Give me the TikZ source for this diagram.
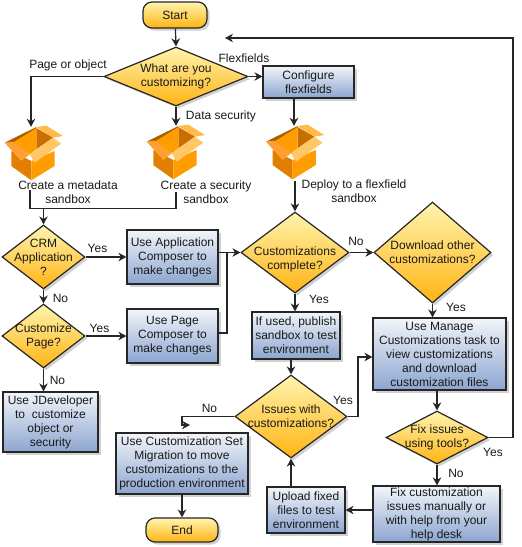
\documentclass[tikz,border=0pt]{standalone}
\usepackage{fontspec}
\setmainfont{Liberation Sans}
\usetikzlibrary{arrows.meta,shapes.geometric,shadows}
\definecolor{ink}{HTML}{262626}
\definecolor{procT}{HTML}{F2F5FA}
\definecolor{procB}{HTML}{8CA5CF}
\definecolor{decT}{HTML}{FFF4AE}
\definecolor{decB}{HTML}{FFB414}
\definecolor{bxA}{HTML}{FF9C00}
\definecolor{bxB}{HTML}{E27F00}
\definecolor{bxC}{HTML}{C96E00}
\definecolor{bxD}{HTML}{FFC766}
\definecolor{bxE}{HTML}{FFA033}
\tikzset{
  x=1pt,y=-1pt,
  lab/.style={font=\fontsize{12}{14}\selectfont,align=center,inner sep=0pt,text=black!90},
  shade box/.style={draw=ink,line width=1.2pt,drop shadow={shadow xshift=2.5pt,shadow yshift=-2.5pt,fill=black!30,opacity=.6}},
  proc/.style={rectangle,shade box,top color=procT,bottom color=procB,lab,text=black!90},
  dec/.style={diamond,shade box,top color=decT,bottom color=decB,inner sep=0pt,aspect=1},
  term/.style={rectangle,rounded corners=9pt,shade box,top color=decT,bottom color=decB,lab},
  iconbox/.style={inner sep=0pt,minimum width=60pt,minimum height=54pt},
  conn/.style={draw=ink,line width=1.2pt},
  arr/.style={conn,-{Stealth[length=8pt,width=8.5pt]}},
  pics/sandbox/.style={code={
    \fill[bxB!75!black] (2.8,-27) -- (-28.8,-11.3) -- (-20.5,-11.3) -- (2.8,-25) -- cycle;
    \fill[bxD!70!bxA] (2.8,-27) -- (12.8,-28.3) -- (29.5,-18) -- (19.5,-16.3) -- cycle;
    \fill[bxC] (2.8,-26) -- (19.5,-16.3) -- (2.8,-4.7) -- cycle;
    \fill[bxA] (2.8,-26) -- (2.8,-4.7) -- (-3.8,0.3) -- (-20.5,-11.3) -- cycle;
    \fill[bxB] (-22.2,-3) -- (-2.2,7) -- (-2.2,26.3) -- (-22.2,12) -- cycle;
    \fill[bxA] (-2.2,7) -- (21,-3) -- (21,12) -- (-2.2,26.3) -- cycle;
    \fill[bxE] (-28.8,-11.3) -- (-20.5,-12.3) -- (-3.8,0.3) -- (-12.2,7) -- cycle;
    \fill[bxD] (-3.8,0.3) -- (19.5,-16.3) -- (27.8,-10.3) -- (1.2,8.7) -- cycle;
  }}
}
\begin{document}
\begin{tikzpicture}
\useasboundingbox (0,0) rectangle (522,547);
% terminals
\node[term,minimum width=64pt,minimum height=26pt] (start) at (175,15) {Start};
\node[term,minimum width=72pt,minimum height=24pt] (endn) at (182,530) {End};
% decisions
\node[dec,minimum width=144pt,minimum height=59pt,label={[lab]center:What are you\\customizing?}] (q1) at (176,76.5) {};
\node[dec,minimum width=83pt,minimum height=64pt,label={[lab]center:CRM\\Application\\?}] (crm) at (43.5,257) {};
\node[dec,minimum width=83pt,minimum height=64pt,label={[lab]center:Customize\\Page?}] (page) at (43.5,336) {};
\node[dec,minimum width=108pt,minimum height=81pt,label={[lab,yshift=-7pt]center:Customizations\\complete?}] (done) at (295,252.5) {};
\node[dec,minimum width=117pt,minimum height=101pt,label={[lab]center:Download other\\customizations?}] (dl) at (432.5,252.5) {};
\node[dec,minimum width=112pt,minimum height=83pt,label={[lab]center:Issues with\\customizations?}] (issues) at (291,416.5) {};
\node[dec,minimum width=102pt,minimum height=53pt,label={[lab]center:Fix issues\\using tools?}] (fix) at (437,437.5) {};
% processes
\node[proc,minimum width=91pt,minimum height=32pt] (conf) at (308.5,82) {Configure\\flexfields};
\node[proc,minimum width=91pt,minimum height=54pt] (appc) at (172.5,257) {Use Application\\Composer to\\make changes};
\node[proc,minimum width=91pt,minimum height=54pt] (pagec) at (172.5,336) {Use Page\\Composer to\\make changes};
\node[proc,minimum width=95pt,minimum height=60pt] (jdev) at (50.5,422) {Use JDeveloper\\to\ \ customize\\object or\\security};
\node[proc,minimum width=88pt,minimum height=47pt] (publish) at (296,335.5) {If used, publish\\sandbox to test\\environment};
\node[proc,minimum width=133pt,minimum height=72pt] (manage) at (439.5,354) {Use Manage\\Customizations task to\\view customizations\\and download\\customization files};
\node[proc,minimum width=132pt,minimum height=61pt] (migr) at (182,463.5) {Use Customization Set\\Migration to move\\customizations to the\\production environment};
\node[proc,minimum width=78pt,minimum height=46pt] (upload) at (306,510) {Upload fixed\\files to test\\environment};
\node[proc,minimum width=127pt,minimum height=56pt] (fixm) at (436.5,514) {Fix customization\\issues manually or\\with help from your\\help desk};
% sandbox icons
\node[iconbox] (bx1) at (31,154) {};
\node[iconbox] (bx2) at (175.5,153) {};
\node[iconbox] (bx3) at (294,153) {};
\pic at ([xshift=2.5pt]bx1.center) {sandbox};
\pic at (bx2.center) {sandbox};
\pic at ([xshift=0.8pt]bx3.center) {sandbox};
% sandbox captions
\node[lab] (t1) at (68,192) {Create a metadata\\sandbox};
\node[lab] (t2) at (206,192) {Create a security\\sandbox};
\node[lab] (t3) at (354,191) {Deploy to a flexfield\\sandbox};
% free coordinates
\coordinate (c1a) at (30,190);
\coordinate (c1b) at (30,208.5);
\coordinate (c2a) at (176,192);
\coordinate (c2b) at (176,208.5);
\coordinate (cj) at (43.5,208.5);
\coordinate (cm) at (227,252.5);
\coordinate (cfix) at (513,437.5);
\coordinate (ctop) at (513,38);
\coordinate (cback) at (225,38);
\coordinate (cno) at (182,416.5);
\coordinate (cnoa) at (182,425);
\coordinate (cnob) at (190,425);
\coordinate (c3a) at (295,181);
% connectors
\draw[arr] (start) -- (q1.north);
\draw[arr] (q1.west) -| (bx1.north);
\draw[arr] (q1.south) -- (q1.south |- bx2.north);
\draw[arr] (q1.east) -- (conf.west |- q1.east);
\draw[arr] (conf.south -| bx3.north) -- (bx3.north);
\draw[conn] (c1a) -- (c1b) -- (c2b) -- (c2a);
\draw[arr] (cj) -- (crm.north);
\draw[arr] (crm.east) -- (appc.west |- crm.east);
\draw[arr] (crm.south) -- (page.north);
\draw[arr] (page.east) -- (pagec.west |- page.east);
\draw[arr] (page.south) -- (page.south |- jdev.north);
\draw[arr] (appc.east |- cm) -- (done.west);
\draw[conn] (pagec.east |- 0,333) -| (cm);
\draw[arr] (c3a) -- (done.north);
\draw[arr] (done.east) -- (dl.west);
\draw[arr] (done.south) -- (done.south |- publish.north);
\draw[arr] (dl.south) -- (dl.south |- manage.north);
\draw[arr] (publish.south -| issues.north) -- (issues.north);
\draw[arr] (issues.east) -- (358,416.5) |- (manage.west |- 0,357);
\draw[arr] (manage.south -| fix.north) -- (fix.north);
\draw[arr] (fix.south) -- (fix.south |- fixm.north);
\draw[arr] (fix.east) -- (cfix) -- (ctop) -- (cback);
\draw[arr] (fixm.west |- 0,510) -- (upload.east |- 0,510);
\draw[arr] (upload.north -| issues.south) -- (issues.south);
\draw[arr] (issues.west) -- (cno) -- (cnoa) -- (cnob);
\draw[arr] (migr.south) -- (endn.north);
% connector labels
\node[lab] (l1) at (68,65) {Page or object};
\node[lab] (l2) at (244,58) {Flexfields};
\node[lab] (l3) at (221,116) {Data security};
\node[lab] (l4) at (97.5,248) {Yes};
\node[lab] (l5) at (60.5,298) {No};
\node[lab] (l6) at (99.5,328) {Yes};
\node[lab] (l7) at (57.5,380) {No};
\node[lab] (l8) at (356,241) {No};
\node[lab] (l9) at (319,299) {Yes};
\node[lab] (l10) at (456,307) {Yes};
\node[lab] (l11) at (343,400) {Yes};
\node[lab] (l12) at (209.5,408) {No};
\node[lab] (l13) at (493,452) {Yes};
\node[lab] (l14) at (456,473.5) {No};
\end{tikzpicture}
\end{document}
